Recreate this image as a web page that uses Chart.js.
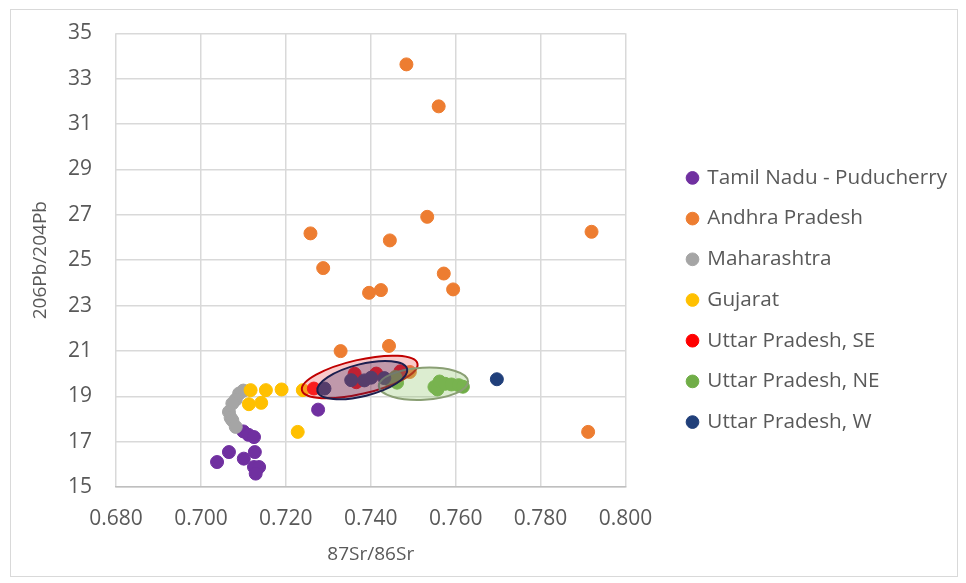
<!DOCTYPE html>
<html>
<head>
<meta charset="utf-8">
<script src="https://cdn.jsdelivr.net/npm/chart.js@4.4.0/dist/chart.umd.min.js"></script>
<style>
    html, body { margin: 0; padding: 0; background: #ffffff; }
    #frame { position: absolute; left: 10px; top: 9px; width: 946px; height: 566px; border: 1px solid #d9d9d9; }
    #chart { display: block; }
</style>
</head>
<body>
<div id="frame"><canvas id="chart" width="946" height="566"></canvas></div>
<script>
// 87Sr/86Sr vs 206Pb/204Pb, one list of [x, y] pairs per region
const tamilNadu = [
    [0.7038, 16.10], [0.7066, 16.54], [0.7101, 16.25], [0.7127, 16.54],
    [0.7125, 15.88], [0.7137, 15.88], [0.7129, 15.59],
    [0.7100, 17.45], [0.7112, 17.30], [0.7125, 17.20], [0.7276, 18.41]
];
const andhraPradesh = [
    [0.7484, 33.63], [0.7560, 31.78], [0.7533, 26.91], [0.7258, 26.18],
    [0.7445, 25.87], [0.7920, 26.25], [0.7288, 24.65], [0.7572, 24.41],
    [0.7396, 23.56], [0.7424, 23.68], [0.7594, 23.71], [0.7329, 20.99],
    [0.7443, 21.22], [0.7492, 20.07], [0.7912, 17.43]
];
const maharashtra = [
    [0.7100, 19.25], [0.7090, 19.12], [0.7082, 18.85], [0.7074, 18.68],
    [0.7066, 18.31], [0.7070, 18.05], [0.7074, 17.94], [0.7082, 17.65]
];
const gujarat = [
    [0.7117, 19.27], [0.7153, 19.27], [0.7190, 19.30], [0.7240, 19.27],
    [0.7113, 18.65], [0.7142, 18.71], [0.7228, 17.43]
];
const upSouthEast = [
    [0.7266, 19.34], [0.7362, 19.99], [0.7366, 19.62], [0.7413, 20.00], [0.7470, 20.10]
];
const upNorthEast = [
    [0.7445, 19.70], [0.7458, 19.85], [0.7462, 19.60], [0.7550, 19.41],
    [0.7557, 19.30], [0.7562, 19.65], [0.7575, 19.55], [0.7590, 19.52],
    [0.7607, 19.49], [0.7617, 19.42]
];
const upWest = [
    [0.7291, 19.34], [0.7354, 19.71], [0.7385, 19.70], [0.7401, 19.82],
    [0.7432, 19.80], [0.7697, 19.75]
];

const seriesNames = ['Tamil Nadu - Puducherry', 'Andhra Pradesh', 'Maharashtra', 'Gujarat',
    'Uttar Pradesh, SE', 'Uttar Pradesh, NE', 'Uttar Pradesh, W'];
const seriesData = [tamilNadu, andhraPradesh, maharashtra, gujarat, upSouthEast, upNorthEast, upWest];
const seriesColors = ['#7030a0', '#ed7d31', '#a5a5a5', '#ffc000', '#ff0000', '#70ad47', '#203f7a'];

// group ellipses for the three Uttar Pradesh sets: centre and semi-axes in data units
const ellipseCentres = [[0.7374, 19.85], [0.7524, 19.55], [0.7380, 19.71]];
const ellipseRadii = [[0.01396, 0.75], [0.01053, 0.706], [0.01089, 0.706]];

const xTicks = [0.68, 0.70, 0.72, 0.74, 0.76, 0.78, 0.80];
const yTicks = [15, 17, 19, 21, 23, 25, 27, 29, 31, 33, 35];

const FONT = '"Open Sans", "Liberation Sans", sans-serif';
const TEXT = '#595959';

const ellipseStyles = [
    { fill: 'rgba(235, 90, 90, 0.32)', stroke: '#c00000', angle: -13 },
    { fill: 'rgba(140, 195, 100, 0.30)', stroke: '#8a9f74', angle: -3 },
    { fill: 'rgba(60, 40, 100, 0.30)', stroke: '#1c1f4f', angle: -14 }
];

const ellipsePlugin = {
    id: 'groupEllipses',
    afterDatasetsDraw(chart) {
        const ctx = chart.ctx;
        const xs = chart.scales.x, ys = chart.scales.y;
        const pxPerX = Math.abs(xs.getPixelForValue(1) - xs.getPixelForValue(0));
        const pxPerY = Math.abs(ys.getPixelForValue(1) - ys.getPixelForValue(0));
        ctx.save();
        ellipseCentres.forEach(function(c, i) {
            const st = ellipseStyles[i];
            ctx.beginPath();
            ctx.ellipse(xs.getPixelForValue(c[0]), ys.getPixelForValue(c[1]),
                ellipseRadii[i][0] * pxPerX, ellipseRadii[i][1] * pxPerY,
                st.angle * Math.PI / 180, 0, Math.PI * 2);
            ctx.fillStyle = st.fill;
            ctx.fill();
            ctx.lineWidth = 2;
            ctx.strokeStyle = st.stroke;
            ctx.stroke();
        });
        ctx.restore();
    }
};

const datasets = seriesNames.map(function(name, i) {
    return {
        label: name,
        data: seriesData[i].map(function(p) { return { x: p[0], y: p[1] }; }),
        backgroundColor: seriesColors[i],
        borderColor: seriesColors[i],
        borderWidth: 1,
        pointRadius: 6.5,
        pointHoverRadius: 6.5,
        order: seriesNames.length - i
    };
});

const config = {
    type: 'scatter',
    data: { datasets: datasets },
    plugins: [ellipsePlugin],
    options: {
        responsive: false,
        animation: false,
        layout: { padding: { top: 22, bottom: 8, left: 8, right: 0 } },
        plugins: {
            tooltip: { enabled: false },
            legend: {
                position: 'right',
                maxWidth: 291,
                labels: {
                    usePointStyle: true,
                    pointStyle: 'circle',
                    boxWidth: 9,
                    boxHeight: 9,
                    padding: 20,
                    color: TEXT,
                    font: { family: FONT, size: 20.7 },
                    sort: function(a, b) { return a.datasetIndex - b.datasetIndex; }
                }
            }
        },
        scales: {
            x: {
                type: 'linear',
                min: 0.68,
                max: 0.80,
                afterBuildTicks: function(scale) { scale.ticks = xTicks.map(function(v) { return { value: v }; }); },
                afterFit: function(scale) { scale.height = 81; },
                grid: { color: '#d9d9d9', lineWidth: 1.5, drawTicks: false },
                border: { color: '#bfbfbf', width: 1.5 },
                ticks: {
                    padding: 19,
                    color: TEXT,
                    font: { family: FONT, size: 21 },
                    callback: function(v) { return v.toFixed(3); }
                },
                title: { display: true, text: '87Sr/86Sr', color: TEXT, font: { family: FONT, size: 19 }, padding: { top: 4, bottom: 2 } }
            },
            y: {
                type: 'linear',
                min: 15,
                max: 35,
                afterBuildTicks: function(scale) { scale.ticks = yTicks.map(function(v) { return { value: v }; }); },
                afterFit: function(scale) {
                    scale.width = 97;
                    scale.paddingTop = 23.3;
                },
                grid: { color: '#d9d9d9', lineWidth: 1.5, drawTicks: false },
                border: { display: false },
                ticks: { padding: 24, color: TEXT, font: { family: FONT, size: 21 } },
                title: { display: true, text: '206Pb/204Pb', color: TEXT, font: { family: FONT, size: 19 }, padding: { top: 10, bottom: 4 } }
            },
            // empty right-hand axis, keeps the legend clear of the plot
            gap: {
                type: 'linear',
                position: 'right',
                grid: { display: false },
                border: { display: false },
                ticks: { display: false },
                afterFit: function(scale) { scale.width = 42.5; }
            }
        }
    }
};

var myChart = new Chart(document.getElementById('chart'), config);
</script>
</body>
</html>
